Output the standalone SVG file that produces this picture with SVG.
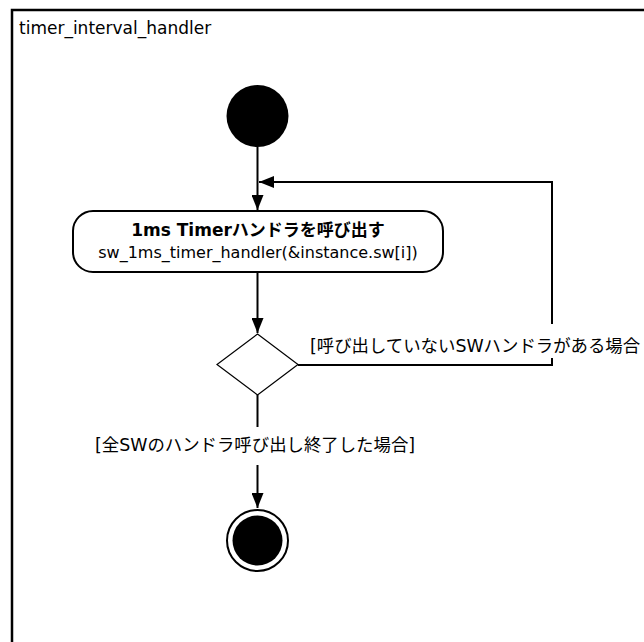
<svg xmlns="http://www.w3.org/2000/svg" width="644" height="642" viewBox="0 0 644 642">
<defs>
<style>
.t{font-family:"DejaVu Sans","Noto Sans CJK JP",sans-serif;font-size:17px;fill:#000}
.b{font-weight:bold}
.s{font-size:16px}
.lb{font-size:17.4px}
.ln{fill:none;stroke:#000;stroke-width:2}
</style>
<marker id="ah" markerWidth="16" markerHeight="12" refX="15" refY="6" orient="auto" markerUnits="userSpaceOnUse">
<path d="M0,0 L15,6 L0,12 Z" fill="#000"/>
</marker>
</defs>
<rect width="644" height="642" fill="#fff"/>
<g id="frame">
<rect x="12" y="10" width="700" height="700" fill="none" stroke="#000" stroke-width="2.5"/>
<text class="t" x="19" y="34">timer_interval_handler</text>
</g>
<g id="connectors">
<path class="ln" d="M257.5,147 V210" marker-end="url(#ah)"/>
<path class="ln" d="M298,365 H552 V182 H259" marker-end="url(#ah)"/>
<path class="ln" d="M257.5,272 V333" marker-end="url(#ah)"/>
<path class="ln" d="M257.5,395 V508" marker-end="url(#ah)"/>
</g>
<g id="initial">
<circle cx="257.5" cy="116" r="31" fill="#000"/>
</g>
<g id="action">
<rect x="73" y="211" width="370" height="61" rx="20" ry="20" fill="#fff" stroke="#000" stroke-width="2"/>
<text class="t b" x="258" y="236" text-anchor="middle">1ms Timerハンドラを呼び出す</text>
<text class="t s" x="258" y="258" text-anchor="middle">sw_1ms_timer_handler(&amp;instance.sw[i])</text>
</g>
<g id="decision">
<path d="M257.5,334 L298,364.5 L257.5,395 L217,364.5 Z" fill="#fff" stroke="#000" stroke-width="1.2"/>
</g>
<g id="label-loop">
<rect x="308" y="324" width="336" height="34" fill="#fff"/>
<text class="t lb" x="310" y="352">[呼び出していないSWハンドラがある場合</text>
</g>
<g id="label-end">
<rect x="93" y="427" width="326" height="38" fill="#fff"/>
<text class="t lb" x="95" y="451">[全SWのハンドラ呼び出し終了した場合]</text>
</g>
<g id="final">
<circle cx="257.5" cy="540.5" r="30.5" fill="#fff" stroke="#000" stroke-width="2"/>
<circle cx="257.5" cy="540.5" r="25" fill="#000"/>
</g>
</svg>
